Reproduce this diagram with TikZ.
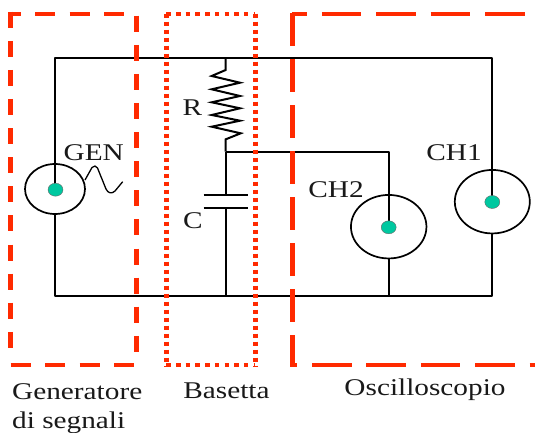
\documentclass[tikz,border=0pt]{standalone}
\usepackage{fontspec}
\setmainfont[FakeStretch=1.22]{Liberation Serif}
\usetikzlibrary{shapes.geometric}
\definecolor{boxred}{HTML}{FF2A00}
\definecolor{tipgreen}{HTML}{00C8A0}
\tikzset{
    wire/.style={draw=black,line width=2pt},
    probe/.style={shape=ellipse,draw=black,line width=1.7pt,inner sep=0pt,outer sep=0pt},
    tip/.style={shape=ellipse,draw=black!60,fill=tipgreen,line width=0.4pt,minimum width=15pt,minimum height=13pt,inner sep=0pt,outer sep=0pt},
    lab/.style={inner sep=0pt,anchor=base,text=black!90,font=\fontsize{24}{28}\selectfont},
    boxh/.style={draw=boxred,line width=4pt},
    boxv/.style={draw=boxred,line width=4.7pt},
}
\begin{document}
\begin{tikzpicture}[x=1pt,y=-1pt]
    \useasboundingbox (0,0) rectangle (535,433);

    \coordinate (tl) at (55,57.7);
    \coordinate (tr) at (492.3,57.7);
    \coordinate (bl) at (55,295.7);
    \coordinate (br) at (492.3,295.7);
    \coordinate (rtop) at (225.7,57.7);
    \coordinate (junc) at (225.7,151.7);
    \coordinate (ch2top) at (388.7,151.7);
    \coordinate (plateA) at (225.7,195);
    \coordinate (plateB) at (225.7,207.7);
    \coordinate (cbot) at (225.7,295.7);
    \coordinate (ch2bot) at (388.7,295.7);

    \node[probe,minimum width=60pt,minimum height=50pt] (gen) at (55,189) {};
    \node[probe,minimum width=75pt,minimum height=63.5pt] (ch1) at (492.3,201.7) {};
    \node[probe,minimum width=75.5pt,minimum height=63.5pt] (ch2) at (388.7,226.7) {};

    \draw[wire,line join=round] (gen.center) -- (tl) -- (tr) -- (ch1.center);
    \draw[wire,line join=round] (gen) -- (bl) -- (br) -- (ch1);
    \draw[wire,line join=round] (junc) -- (ch2top) -- (ch2.center);
    \draw[wire] (ch2) -- (ch2bot);
    \draw[wire] (rtop) -- (225.7,70) -- (211.7,76) -- (240,82.7) -- (211.7,89.3) -- (240,96) -- (211.7,102.3) -- (240,108.3) -- (211.7,115) -- (240,120.7) -- (211.7,126.7) -- (240.7,133.3) -- (225.7,139.3) -- (junc);
    \draw[wire] (junc) -- (plateA);
    \draw[wire] (plateB) -- (cbot);
    \draw[wire] ([xshift=-22.2pt]plateA) -- ([xshift=22.2pt]plateA);
    \draw[wire] ([xshift=-22.2pt]plateB) -- ([xshift=22.2pt]plateB);
    \draw[draw=black,line width=1.3pt] (gen.east |- 0,180) -- (92,167.5) .. controls (94,165.5) and (96,165.5) .. (97.5,168) -- (106,189) .. controls (108,193.5) and (112,194) .. (115,191) -- (122.7,181.7);

    \node[tip] (gentip) at (55.5,189.7) {};
    \node[tip] (ch1tip) at (492.3,202) {};
    \node[tip] (ch2tip) at (388.7,227.3) {};

    \node[lab] (genlab) at (93.7,160) {GEN};
    \node[lab] (rlab) at (192.5,116) {R};
    \node[lab] (clab) at (193,228) {C};
    \node[lab] (ch1lab) at (454,160) {CH1};
    \node[lab] (ch2lab) at (336,197.7) {CH2};
    \node[lab,anchor=base west] (gensig) at (12,399) {Generatore};
    \node[lab,anchor=base west] (gensig2) at (12,428) {di segnali};
    \node[lab] (baslab) at (226.5,398) {Basetta};
    \node[lab] (osclab) at (425,395) {Oscilloscopio};

    \draw[boxh,dash pattern=on 20pt off 14.6pt,dash phase=10pt] (10.5,13.7) -- (136.7,13.7);
    \draw[boxh,dash pattern=on 20pt off 14.6pt] (10.5,364.7) -- (136.7,364.7);
    \draw[boxv,dash pattern=on 16pt off 13.1pt] (10.5,11.7) -- (10.5,353);
    \draw[boxv,dash pattern=on 16pt off 13.1pt] (136.7,15.7) -- (136.7,354);

    \draw[draw=boxred,line width=4pt,dash pattern=on 4.5pt off 5.2pt] (166.3,13.7) -- (255.3,13.7);
    \draw[draw=boxred,line width=4pt,dash pattern=on 4.5pt off 5.2pt] (166.3,364.7) -- (255.3,364.7);
    \draw[draw=boxred,line width=4.4pt,dash pattern=on 4pt off 4pt] (166.3,13.7) -- (166.3,366);
    \draw[draw=boxred,line width=4.4pt,dash pattern=on 4pt off 4pt] (255.3,13.7) -- (255.3,366);

    \draw[boxh,dash pattern=on 39.5pt off 14.9pt,dash phase=24.8pt] (292.3,13.7) -- (535,13.7);
    \draw[boxh,dash pattern=on 39.5pt off 14.9pt,dash phase=34.7pt] (292.3,364.7) -- (535,364.7);
    \draw[boxv,dash pattern=on 33pt off 13pt] (292.3,13.3) -- (292.3,367);
    \draw[boxv,dash pattern=on 33pt off 13pt] (537,13.3) -- (537,367);
\end{tikzpicture}
\end{document}
